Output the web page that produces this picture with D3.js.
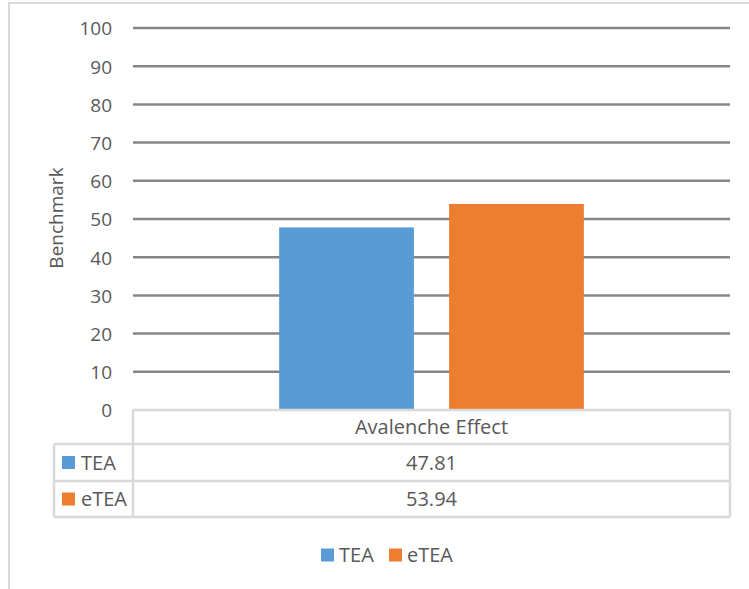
<!DOCTYPE html>
<html>
<head>
<meta charset="utf-8">
<script src="https://cdn.jsdelivr.net/npm/d3@7"></script>
<style>
  html, body { margin: 0; padding: 0; background: #fff; }
  svg { display: block; font-family: "Open Sans", Lato, sans-serif; }
</style>
</head>
<body>
<svg id="chart" width="749" height="589"></svg>
<script>
// Data
const categories = ["Avalenche Effect"];
const seriesNames = ["TEA", "eTEA"];
const seriesValues = [[47.81], [53.94]];
const valueLabels = [["47.81"], ["53.94"]];
const yTicks = [0, 10, 20, 30, 40, 50, 60, 70, 80, 90, 100];
const colors = ["#5b9bd5", "#ed7d31"];

const svg = d3.select("#chart");
const W = 749, H = 589;
const textColor = "#595959";
const tableLine = "#d9d9d9";
const axisFont = 19;
const tableFont = 20;

// Outer chart frame
svg.append("rect")
  .attr("x", 9).attr("y", 3).attr("width", W + 10).attr("height", H + 10)
  .attr("fill", "none").attr("stroke", "#d9d9d9").attr("stroke-width", 2);

const plot = { left: 133, right: 730, top: 28, bottom: 410 };

const y = d3.scaleLinear().domain([0, 100]).range([plot.bottom, plot.top]);
const x0 = d3.scaleBand().domain(categories).range([plot.left, plot.right]);
const x1 = d3.scaleBand().domain(seriesNames).range([0, x0.bandwidth()])
  .paddingInner(0.207).paddingOuter(0.86);

// Gridlines (0 line is hidden behind the data table's top edge)
svg.append("g").selectAll("line")
  .data(yTicks.filter(t => t > 0))
  .join("line")
  .attr("x1", plot.left).attr("x2", plot.right)
  .attr("y1", d => y(d)).attr("y2", d => y(d))
  .attr("stroke", "#868686").attr("stroke-width", 2.5);

// Y axis tick labels
const yAxis = d3.axisLeft(y).tickValues(yTicks).tickSize(0).tickPadding(0);
const gy = svg.append("g").attr("transform", `translate(112,0)`).call(yAxis);
gy.select(".domain").remove();
gy.selectAll("text")
  .attr("fill", textColor).attr("font-size", axisFont).attr("font-family", "'Open Sans', sans-serif")
  .attr("dy", "0.36em");

// Y axis title
svg.append("text")
  .attr("transform", `translate(63,218) rotate(-90)`)
  .attr("text-anchor", "middle")
  .attr("fill", textColor).attr("font-size", axisFont)
  .text("Benchmark");

// Bars
const cat = svg.append("g").selectAll("g")
  .data(categories)
  .join("g")
  .attr("transform", d => `translate(${x0(d)},0)`);

cat.selectAll("rect")
  .data((d, i) => seriesNames.map((s, j) => ({ s, v: seriesValues[j][i], c: colors[j] })))
  .join("rect")
  .attr("x", d => x1(d.s))
  .attr("width", x1.bandwidth())
  .attr("y", d => y(d.v))
  .attr("height", d => y(0) - y(d.v))
  .attr("fill", d => d.c);

// Data table below the plot
const rowY = [410, 444, 481, 517];
const tableLeft = 54;
const g = svg.append("g");
const lineAttrs = sel => sel.attr("stroke", tableLine).attr("stroke-width", 2.5);

// horizontal lines
g.append("line").attr("x1", plot.left).attr("x2", plot.right).attr("y1", rowY[0]).attr("y2", rowY[0]).call(lineAttrs);
rowY.slice(1).forEach(yy => {
  g.append("line").attr("x1", tableLeft).attr("x2", plot.right).attr("y1", yy).attr("y2", yy).call(lineAttrs);
});
// vertical lines
g.append("line").attr("x1", tableLeft).attr("x2", tableLeft).attr("y1", rowY[1]).attr("y2", rowY[3]).call(lineAttrs);
g.append("line").attr("x1", plot.left).attr("x2", plot.left).attr("y1", rowY[0]).attr("y2", rowY[3]).call(lineAttrs);
g.append("line").attr("x1", plot.right).attr("x2", plot.right).attr("y1", rowY[0]).attr("y2", rowY[3]).call(lineAttrs);

// header
categories.forEach(c => {
  g.append("text")
    .attr("x", x0(c) + x0.bandwidth() / 2).attr("y", (rowY[0] + rowY[1]) / 2)
    .attr("dy", "0.36em").attr("text-anchor", "middle")
    .attr("fill", textColor).attr("font-size", tableFont)
    .text(c);
});

// series rows
seriesNames.forEach((s, j) => {
  const cy = (rowY[j + 1] + rowY[j + 2]) / 2;
  g.append("rect").attr("x", 62).attr("y", cy - 6.5).attr("width", 13).attr("height", 13).attr("fill", colors[j]);
  g.append("text").attr("x", 81).attr("y", cy).attr("dy", "0.36em")
    .attr("fill", textColor).attr("font-size", tableFont).text(s);
  categories.forEach((c, i) => {
    g.append("text")
      .attr("x", x0(c) + x0.bandwidth() / 2).attr("y", cy)
      .attr("dy", "0.36em").attr("text-anchor", "middle")
      .attr("fill", textColor).attr("font-size", tableFont)
      .text(valueLabels[j][i]);
  });
});

// Legend
const legend = svg.append("g").attr("transform", "translate(321,555)");
const legendX = [0, 68];
seriesNames.forEach((s, j) => {
  const lg = legend.append("g").attr("transform", `translate(${legendX[j]},0)`);
  lg.append("rect").attr("x", 0).attr("y", -6.5).attr("width", 13).attr("height", 13).attr("fill", colors[j]);
  lg.append("text").attr("x", 18).attr("y", 0).attr("dy", "0.36em")
    .attr("fill", textColor).attr("font-size", tableFont).text(s);
});
</script>
</body>
</html>
